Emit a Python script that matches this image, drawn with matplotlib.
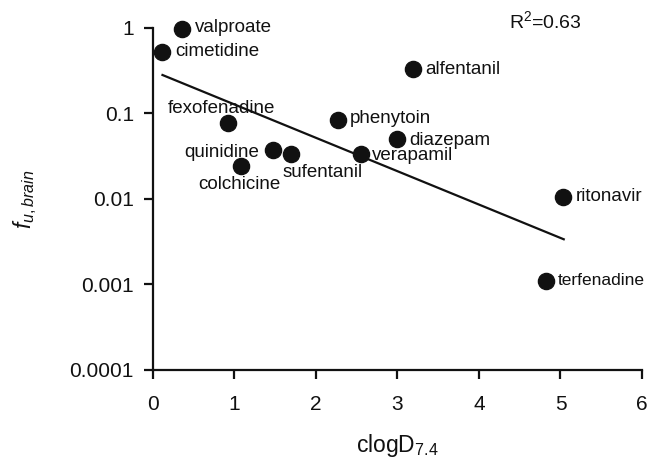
import matplotlib
matplotlib.use("Agg")
import matplotlib.pyplot as plt
from matplotlib.ticker import FixedLocator, FixedFormatter, NullLocator

plt.rcParams['font.family'] = ['Liberation Sans', 'DejaVu Sans']
plt.rcParams['mathtext.fontset'] = 'custom'
plt.rcParams['mathtext.rm'] = 'Liberation Sans'
plt.rcParams['mathtext.it'] = 'Liberation Sans:italic'

# data
drugs = ["valproate", "cimetidine", "fexofenadine", "quinidine", "sufentanil",
         "colchicine", "phenytoin", "diazepam", "verapamil", "alfentanil",
         "ritonavir", "terfenadine"]
clogd = [0.36, 0.12, 0.92, 1.47, 1.69, 1.08, 2.27, 3.00, 2.56, 3.19, 5.03, 4.82]
fu_brain = [0.98, 0.53, 0.077, 0.037, 0.034, 0.024, 0.084, 0.050, 0.034, 0.33,
            0.0106, 0.0011]

# regression line end points
fit_x = [0.12, 5.04]
fit_y = [0.282, 0.00338]

yticks = [0.0001, 0.001, 0.01, 0.1, 1]
ytick_labels = ["0.0001", "0.001", "0.01", "0.1", "1"]
xticks = [0, 1, 2, 3, 4, 5, 6]

# label placement (pixel offsets, alignment)
label_pos = {
    "valproate": (13, 1, "left"),
    "cimetidine": (13, 0, "left"),
    "fexofenadine": (-6, 15, "center"),
    "quinidine": (-13, -2, "right"),
    "sufentanil": (-8, -19, "left"),
    "colchicine": (-1, -18, "center"),
    "phenytoin": (12, 1, "left"),
    "diazepam": (12, -1, "left"),
    "verapamil": (10, -2, "left"),
    "alfentanil": (12, 0, "left"),
    "ritonavir": (13, 0, "left"),
    "terfenadine": (12, 0, "left"),
}

fig = plt.figure(figsize=(6.52, 4.61), dpi=100)
ax = fig.add_axes([0.2342, 0.1974, 0.7505, 0.7419])

ax.plot(fit_x, fit_y, color="#111111", lw=1.6)
ax.scatter(clogd, fu_brain, s=135, color="#111111", zorder=3, clip_on=False)

for name, x, y in zip(drugs, clogd, fu_brain):
    dx, dy, ha = label_pos[name]
    fs = 12.5 if name == "terfenadine" else 13.5
    ax.annotate(name, (x, y), xytext=(dx, dy), textcoords="offset pixels",
                ha=ha, va="center", fontsize=fs, color="#111111")

ax.text(4.82, 1.2, r"R$^2$=0.63", ha="center", va="center", fontsize=14,
        color="#111111", clip_on=False)

ax.set_yscale("log")
ax.set_xlim(0, 6)
ax.set_ylim(0.0001, 1)
ax.yaxis.set_major_locator(FixedLocator(yticks))
ax.yaxis.set_major_formatter(FixedFormatter(ytick_labels))
ax.yaxis.set_minor_locator(NullLocator())
ax.set_xticks(xticks)

for s in ["top", "right"]:
    ax.spines[s].set_visible(False)
for s in ["left", "bottom"]:
    ax.spines[s].set_linewidth(1.6)
    ax.spines[s].set_color("#111111")

ax.tick_params(axis="both", length=6.5, width=1.6, labelsize=15,
               colors="#111111")
ax.tick_params(axis="x", pad=11.5)
ax.tick_params(axis="y", pad=7)

ax.set_xlabel(r"clogD$_{7.4}$", fontsize=16.5, color="#111111")
ax.xaxis.set_label_coords(0.5, -0.18)
ax.xaxis.label.set_va("top")
ax.set_ylabel(r"$f_{u,brain}$", fontsize=16.5, color="#111111")
ax.yaxis.set_label_coords(-0.232, 0.5)

fig.savefig("out.png", dpi=100)
